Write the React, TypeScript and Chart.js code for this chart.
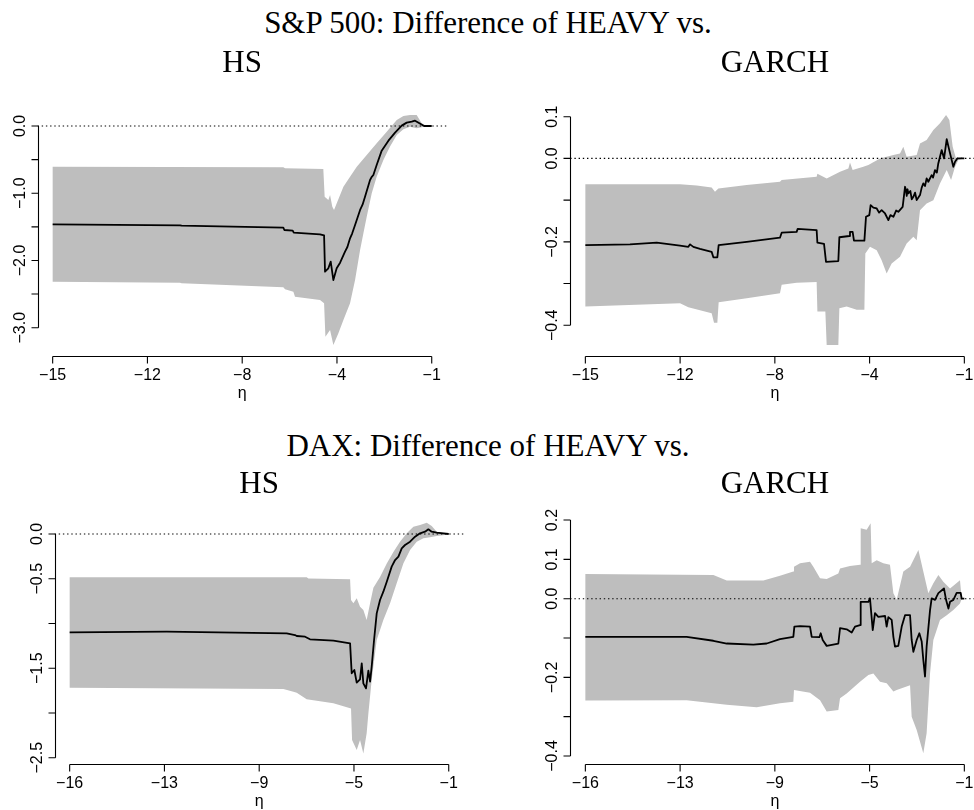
import React, { useEffect, useRef } from "react";
import { Chart, registerables } from "chart.js";

Chart.register(...registerables);

// ---------- tick labels ----------
const xTickPos = [0, 1, 2, 3, 4];
const spXLabels = ["\u221215", "\u221212", "\u22128", "\u22124", "\u22121"];
const daxXLabels = ["\u221216", "\u221213", "\u22129", "\u22125", "\u22121"];

const spHsYTicks = [0, -0.5, -1, -1.5, -2, -2.5, -3];
const spHsYLabels = ["0.0", "", "\u22121.0", "", "\u22122.0", "", "\u22123.0"];
const spGarchYTicks = [0.1, 0, -0.1, -0.2, -0.3, -0.4];
const spGarchYLabels = ["0.1", "0.0", "", "\u22120.2", "", "\u22120.4"];
const daxHsYTicks = [0, -0.5, -1, -1.5, -2, -2.5];
const daxHsYLabels = ["0.0", "\u22120.5", "", "\u22121.5", "", "\u22122.5"];
const daxGarchYTicks = [0.2, 0.1, 0, -0.1, -0.2, -0.3, -0.4];
const daxGarchYLabels = ["0.2", "0.1", "0.0", "", "\u22120.2", "", "\u22120.4"];

// ---------- S&P 500, HEAVY vs HS ----------
const spHsMean: [number, number][] = [
  [0, -1.463], [1.344, -1.477], [1.361, -1.482], [2.434, -1.512], [2.445, -1.547],
  [2.533, -1.557], [2.544, -1.587], [2.821, -1.611], [2.864, -1.626], [2.874, -2.167],
  [2.909, -2.117], [2.934, -2.018], [2.962, -2.291], [2.997, -2.117], [3.033, -2.033],
  [3.085, -1.869], [3.11, -1.8], [3.138, -1.671], [3.16, -1.6], [3.191, -1.472],
  [3.244, -1.249], [3.27, -1.17], [3.296, -1.051], [3.349, -0.803], [3.365, -0.76],
  [3.384, -0.729], [3.419, -0.58], [3.472, -0.367], [3.543, -0.218], [3.613, -0.099],
  [3.683, 0.005], [3.736, 0.05], [3.789, 0.064], [3.824, 0.079], [3.87, 0.04],
  [3.919, 0], [4, 0],
];
const spHsUpper: [number, number][] = [
  [0, -0.605], [2.434, -0.615], [2.452, -0.63], [2.856, -0.64], [2.87, -1.051],
  [2.909, -1.101], [2.927, -1.026], [2.951, -1.2], [2.969, -1.249], [3.068, -0.902],
  [3.138, -0.754], [3.209, -0.605], [3.314, -0.431], [3.419, -0.258], [3.525, -0.084],
  [3.631, 0.089], [3.701, 0.149], [3.771, 0.164], [3.841, 0.164], [3.894, 0.04],
  [3.947, 0], [4, 0],
];
const spHsLower: [number, number][] = [
  [0, -2.315], [1.344, -2.33], [1.361, -2.34], [2.434, -2.4], [2.452, -2.429],
  [2.54, -2.464], [2.557, -2.538], [2.821, -2.588], [2.864, -2.638], [2.878, -3.133],
  [2.927, -3.034], [2.962, -3.257], [3.015, -3.084], [3.068, -2.885], [3.138, -2.638],
  [3.191, -2.291], [3.244, -1.844], [3.279, -1.596], [3.314, -1.349], [3.367, -1.001],
  [3.419, -0.754], [3.49, -0.506], [3.56, -0.307], [3.631, -0.134], [3.701, -0.05],
  [3.771, -0.01], [3.841, -0.035], [3.894, -0.02], [3.947, 0], [4, 0],
];

// ---------- S&P 500, HEAVY vs GARCH ----------
const spGarchMean: [number, number][] = [
  [0, -0.208], [0.471, -0.206], [0.753, -0.202], [0.999, -0.209], [1.087, -0.212],
  [1.105, -0.206], [1.14, -0.212], [1.21, -0.217], [1.333, -0.224], [1.351, -0.237],
  [1.393, -0.237], [1.407, -0.208], [1.703, -0.2], [2.054, -0.19], [2.072, -0.178],
  [2.23, -0.176], [2.241, -0.169], [2.441, -0.172], [2.449, -0.202], [2.519, -0.205],
  [2.54, -0.248], [2.67, -0.246], [2.681, -0.189], [2.786, -0.186], [2.793, -0.176],
  [2.821, -0.176], [2.835, -0.197], [2.945, -0.197], [2.962, -0.14], [2.997, -0.136],
  [3.011, -0.112], [3.04, -0.118], [3.075, -0.12], [3.1, -0.13], [3.127, -0.124],
  [3.163, -0.132], [3.198, -0.148], [3.22, -0.136], [3.251, -0.14], [3.28, -0.125],
  [3.303, -0.128], [3.349, -0.116], [3.374, -0.068], [3.385, -0.078], [3.392, -0.09],
  [3.4, -0.074], [3.409, -0.084], [3.43, -0.078], [3.445, -0.098], [3.462, -0.092],
  [3.48, -0.082], [3.497, -0.1], [3.532, -0.088], [3.55, -0.07], [3.567, -0.06],
  [3.585, -0.066], [3.602, -0.048], [3.62, -0.056], [3.655, -0.04], [3.67, -0.046],
  [3.69, -0.028], [3.71, -0.034], [3.725, -0.012], [3.743, 0.004], [3.761, 0.02],
  [3.786, 0.0], [3.814, 0.046], [3.849, 0.012], [3.884, -0.02], [3.902, -0.008],
  [3.926, 0], [4, 0],
];
const spGarchUpper: [number, number][] = [
  [0, -0.062], [0.999, -0.062], [1.175, -0.065], [1.333, -0.07], [1.368, -0.08],
  [1.404, -0.072], [1.703, -0.064], [2.054, -0.056], [2.072, -0.052], [2.441, -0.044],
  [2.449, -0.037], [2.547, -0.048], [2.688, -0.032], [2.776, -0.024], [2.793, -0.01],
  [2.821, -0.028], [2.934, -0.02], [2.987, -0.016], [3.11, 0.0], [3.251, 0.008],
  [3.321, 0.012], [3.356, 0.028], [3.391, 0.004], [3.497, 0.008], [3.532, 0.036],
  [3.602, 0.044], [3.673, 0.068], [3.743, 0.084], [3.807, 0.104], [3.842, 0.092],
  [3.877, 0.028], [3.912, 0], [4, 0],
];
const spGarchLower: [number, number][] = [
  [0, -0.355], [0.999, -0.347], [1.087, -0.357], [1.333, -0.371], [1.358, -0.394],
  [1.393, -0.394], [1.407, -0.345], [1.703, -0.335], [2.054, -0.323], [2.072, -0.303],
  [2.23, -0.298], [2.441, -0.296], [2.449, -0.367], [2.533, -0.367], [2.547, -0.447],
  [2.67, -0.447], [2.681, -0.359], [2.758, -0.355], [2.864, -0.363], [2.945, -0.363],
  [2.955, -0.228], [3.004, -0.212], [3.075, -0.22], [3.127, -0.244], [3.18, -0.276],
  [3.233, -0.252], [3.321, -0.236], [3.391, -0.204], [3.462, -0.188], [3.497, -0.196],
  [3.532, -0.124], [3.602, -0.108], [3.673, -0.1], [3.743, -0.06], [3.814, -0.028],
  [3.86, -0.052], [3.902, -0.02], [3.937, -0.004], [4, 0],
];

// ---------- DAX, HEAVY vs HS ----------
const daxHsMean: [number, number][] = [
  [0, -1.099], [1.024, -1.092], [2.29, -1.11], [2.378, -1.129], [2.396, -1.14],
  [2.484, -1.148], [2.536, -1.177], [2.783, -1.192], [2.959, -1.222], [2.976, -1.557],
  [3.004, -1.52], [3.029, -1.662], [3.064, -1.625], [3.082, -1.446], [3.099, -1.669],
  [3.127, -1.725], [3.152, -1.528], [3.17, -1.651], [3.187, -1.483], [3.212, -1.185],
  [3.24, -0.887], [3.275, -0.738], [3.31, -0.645], [3.346, -0.533], [3.398, -0.365],
  [3.434, -0.291], [3.469, -0.253], [3.504, -0.16], [3.539, -0.123], [3.592, -0.086],
  [3.645, -0.03], [3.697, 0.007], [3.75, 0.026], [3.785, 0.052], [3.82, 0.026],
  [3.873, 0.015], [3.943, 0.007], [4, 0],
];
const daxHsUpper: [number, number][] = [
  [0, -0.484], [2.501, -0.484], [2.519, -0.496], [2.959, -0.507], [2.969, -0.738],
  [2.994, -0.775], [3.029, -0.719], [3.064, -0.812], [3.099, -0.85], [3.134, -0.961],
  [3.17, -0.775], [3.205, -0.6], [3.275, -0.48], [3.346, -0.33], [3.416, -0.2],
  [3.486, -0.086], [3.557, 0.007], [3.627, 0.082], [3.697, 0.101], [3.768, 0.127],
  [3.82, 0.089], [3.873, 0.026], [3.943, 0.015], [4, 0.007],
];
const daxHsLower: [number, number][] = [
  [0, -1.718], [2.255, -1.733], [2.361, -1.762], [2.396, -1.774], [2.501, -1.848],
  [2.783, -1.893], [2.969, -1.949], [2.98, -2.303], [3.029, -2.414], [3.064, -2.303],
  [3.099, -2.452], [3.134, -2.228], [3.152, -2.005], [3.187, -1.632], [3.24, -1.185],
  [3.31, -0.961], [3.381, -0.775], [3.451, -0.551], [3.522, -0.328], [3.592, -0.179],
  [3.662, -0.086], [3.733, -0.048], [3.803, -0.037], [3.873, -0.022], [4, -0.007],
];

// ---------- DAX, HEAVY vs GARCH ----------
const daxGarchMean: [number, number][] = [
  [0, -0.097], [1.069, -0.097], [1.351, -0.107], [1.492, -0.114], [1.773, -0.117],
  [1.914, -0.114], [2.054, -0.103], [2.195, -0.097], [2.206, -0.071], [2.266, -0.07],
  [2.371, -0.071], [2.389, -0.097], [2.47, -0.098], [2.484, -0.088], [2.505, -0.105],
  [2.547, -0.12], [2.67, -0.114], [2.688, -0.075], [2.758, -0.078], [2.811, -0.086],
  [2.846, -0.071], [2.899, -0.067], [2.906, -0.008], [2.987, -0.008], [3.004, 0.001],
  [3.033, -0.08], [3.057, -0.037], [3.092, -0.046], [3.163, -0.044], [3.18, -0.071],
  [3.198, -0.047], [3.233, -0.054], [3.251, -0.097], [3.268, -0.122], [3.303, -0.12],
  [3.339, -0.071], [3.374, -0.042], [3.427, -0.042], [3.444, -0.105], [3.462, -0.135],
  [3.497, -0.105], [3.525, -0.088], [3.55, -0.109], [3.567, -0.156], [3.585, -0.198],
  [3.602, -0.122], [3.638, -0.029], [3.655, 0.001], [3.69, -0.003], [3.726, 0.014],
  [3.785, 0.026], [3.807, -0.003], [3.832, -0.025], [3.849, -0.008], [3.884, -0.003],
  [3.919, 0.015], [3.961, 0.015], [3.972, 0], [4, 0],
];
const daxGarchUpper: [number, number][] = [
  [0, 0.063], [1.351, 0.06], [1.492, 0.046], [1.879, 0.046], [2.054, 0.058],
  [2.195, 0.069], [2.202, 0.081], [2.266, 0.09], [2.371, 0.094], [2.406, 0.081],
  [2.477, 0.052], [2.547, 0.05], [2.67, 0.064], [2.688, 0.077], [2.793, 0.083],
  [2.899, 0.086], [2.906, 0.179], [2.969, 0.175], [3.011, 0.192], [3.022, 0.09],
  [3.075, 0.098], [3.145, 0.09], [3.215, 0.086], [3.251, 0.014], [3.286, -0.003],
  [3.356, 0.069], [3.427, 0.081], [3.515, 0.124], [3.567, 0.069], [3.62, 0.014],
  [3.673, 0.039], [3.726, 0.06], [3.778, 0.043], [3.849, 0.026], [3.954, 0.047],
  [3.972, 0],
];
const daxGarchLower: [number, number][] = [
  [0, -0.259], [1.069, -0.258], [1.492, -0.27], [1.808, -0.276], [2.054, -0.266],
  [2.195, -0.262], [2.202, -0.232], [2.371, -0.239], [2.477, -0.258], [2.547, -0.287],
  [2.67, -0.283], [2.688, -0.253], [2.758, -0.241], [2.899, -0.211], [2.987, -0.194],
  [3.04, -0.19], [3.11, -0.211], [3.18, -0.215], [3.251, -0.236], [3.286, -0.232],
  [3.427, -0.22], [3.444, -0.3], [3.497, -0.334], [3.567, -0.393], [3.602, -0.342],
  [3.638, -0.19], [3.673, -0.105], [3.743, -0.054], [3.814, -0.042], [3.884, -0.029],
  [3.954, -0.012], [3.972, 0],
];

// ---------- layout ----------
type Box = { x: number; y: number; w: number; h: number };
type Area = { left: number; top: number; right: number; bottom: number };

interface PanelCfg {
  box: Box;
  area: Area;
  yMin: number;
  yMax: number;
  mean: [number, number][];
  upper: [number, number][];
  lower: [number, number][];
  yTicks: number[];
  yLabels: string[];
  xLabels: string[];
}

const X_MIN = -0.16;
const X_MAX = 4.16;

const panels: PanelCfg[] = [
  {
    box: { x: 0, y: 75, w: 487, h: 345 },
    area: { left: 37.5, top: 105, right: 446.9, bottom: 356 },
    yMin: -3.421, yMax: 0.312,
    mean: spHsMean, upper: spHsUpper, lower: spHsLower,
    yTicks: spHsYTicks, yLabels: spHsYLabels, xLabels: spXLabels,
  },
  {
    box: { x: 487, y: 75, w: 500, h: 345 },
    area: { left: 570.2, top: 105, right: 979.5, bottom: 356 },
    yMin: -0.4736, yMax: 0.128,
    mean: spGarchMean, upper: spGarchUpper, lower: spGarchLower,
    yTicks: spGarchYTicks, yLabels: spGarchYLabels, xLabels: spXLabels,
  },
  {
    box: { x: 0, y: 495, w: 487, h: 315 },
    area: { left: 54.5, top: 514, right: 463.9, bottom: 764.3 },
    yMin: -2.574, yMax: 0.2235,
    mean: daxHsMean, upper: daxHsUpper, lower: daxHsLower,
    yTicks: daxHsYTicks, yLabels: daxHsYLabels, xLabels: daxXLabels,
  },
  {
    box: { x: 487, y: 495, w: 500, h: 315 },
    area: { left: 570.2, top: 514, right: 979.5, bottom: 764.3 },
    yMin: -0.4211, yMax: 0.2153,
    mean: daxGarchMean, upper: daxGarchUpper, lower: daxGarchLower,
    yTicks: daxGarchYTicks, yLabels: daxGarchYLabels, xLabels: daxXLabels,
  },
];

const TITLE_SIZE = 31;
const titles = [
  { text: "S&P 500: Difference of HEAVY vs.", cx: 488, base: 33 },
  { text: "HS", cx: 242.2, base: 72 },
  { text: "GARCH", cx: 774.9, base: 72 },
  { text: "DAX: Difference of HEAVY vs.", cx: 488, base: 456 },
  { text: "HS", cx: 259.2, base: 493 },
  { text: "GARCH", cx: 774.9, base: 493 },
];

const AXIS_FONT = '16px "Liberation Sans", Arial, Helvetica, sans-serif';
const TICK_LEN = 7;

const rAxesPlugin = {
  id: "rAxes",
  afterDraw(chart: any, _args: any, opts: any) {
    const { ctx, chartArea, scales } = chart;
    const xs = scales.x;
    const ys = scales.y;
    ctx.save();
    ctx.strokeStyle = "#000";
    ctx.fillStyle = "#000";
    ctx.lineWidth = 1.1;
    const yb = Math.round(chartArea.bottom) + 0.5;
    const xl = Math.round(chartArea.left) + 0.5;
    const xt: number[] = opts.xTicks;
    const yt: number[] = opts.yTicks;
    ctx.beginPath();
    ctx.moveTo(xs.getPixelForValue(xt[0]), yb);
    ctx.lineTo(xs.getPixelForValue(xt[xt.length - 1]), yb);
    xt.forEach((t) => {
      const px = xs.getPixelForValue(t);
      ctx.moveTo(px, yb);
      ctx.lineTo(px, yb + TICK_LEN);
    });
    ctx.moveTo(xl, ys.getPixelForValue(yt[0]));
    ctx.lineTo(xl, ys.getPixelForValue(yt[yt.length - 1]));
    yt.forEach((t) => {
      const py = ys.getPixelForValue(t);
      ctx.moveTo(xl, py);
      ctx.lineTo(xl - TICK_LEN, py);
    });
    ctx.stroke();

    ctx.font = AXIS_FONT;
    ctx.textAlign = "center";
    ctx.textBaseline = "alphabetic";
    xt.forEach((t, i) => {
      ctx.fillText(opts.xLabels[i], xs.getPixelForValue(t), yb + 23);
    });
    ctx.fillText(
      opts.xTitle,
      (xs.getPixelForValue(xt[0]) + xs.getPixelForValue(xt[xt.length - 1])) / 2,
      yb + 41
    );
    yt.forEach((t, i) => {
      const lab = opts.yLabels[i];
      if (!lab) return;
      ctx.save();
      ctx.translate(xl - 14, ys.getPixelForValue(t));
      ctx.rotate(-Math.PI / 2);
      ctx.fillText(lab, 0, 0);
      ctx.restore();
    });
    ctx.restore();
  },
};

const toXY = (arr: [number, number][]) => arr.map(([x, y]) => ({ x, y }));

function Panel({ cfg }: { cfg: PanelCfg }) {
  const ref = useRef<HTMLCanvasElement>(null);
  useEffect(() => {
    const { box, area } = cfg;
    const band = [...toXY(cfg.upper), ...toXY(cfg.lower).reverse()];
    const chart = new Chart(ref.current as HTMLCanvasElement, {
      type: "line",
      data: {
        datasets: [
          {
            data: toXY(cfg.mean),
            borderColor: "#000",
            borderWidth: 1.8,
            pointRadius: 0,
            fill: false,
            tension: 0,
            borderJoinStyle: "round",
            order: 0,
          } as any,
          {
            data: [{ x: X_MIN, y: 0 }, { x: X_MAX, y: 0 }],
            borderColor: "#000",
            borderWidth: 1.1,
            borderDash: [1.4, 2.8],
            pointRadius: 0,
            fill: false,
            order: 1,
          } as any,
          {
            data: band,
            borderWidth: 0,
            borderColor: "rgba(0,0,0,0)",
            backgroundColor: "#bebebe",
            pointRadius: 0,
            fill: "shape",
            tension: 0,
            order: 2,
          } as any,
        ],
      },
      options: {
        animation: false,
        responsive: false,
        maintainAspectRatio: false,
        events: [],
        layout: {
          padding: {
            left: area.left - box.x,
            top: area.top - box.y,
            right: box.x + box.w - area.right,
            bottom: box.y + box.h - area.bottom,
          },
        },
        scales: {
          x: { type: "linear", display: false, min: X_MIN, max: X_MAX },
          y: { type: "linear", display: false, min: cfg.yMin, max: cfg.yMax },
        },
        plugins: {
          legend: { display: false },
          tooltip: { enabled: false },
          rAxes: {
            xTicks: xTickPos,
            xLabels: cfg.xLabels,
            yTicks: cfg.yTicks,
            yLabels: cfg.yLabels,
            xTitle: "\u03b7",
          },
        } as any,
      },
      plugins: [rAxesPlugin],
    });
    return () => chart.destroy();
  }, [cfg]);
  return (
    <canvas
      ref={ref}
      width={cfg.box.w}
      height={cfg.box.h}
      style={{
        position: "absolute",
        left: cfg.box.x,
        top: cfg.box.y,
        width: cfg.box.w,
        height: cfg.box.h,
      }}
    />
  );
}

export default function App() {
  return (
    <div
      style={{
        position: "absolute",
        left: 0,
        top: 0,
        width: 974,
        height: 810,
        overflow: "hidden",
        background: "#fff",
      }}
    >
      {panels.map((p, i) => (
        <Panel key={i} cfg={p} />
      ))}
      {titles.map((t, i) => (
        <div
          key={"t" + i}
          style={{
            position: "absolute",
            left: t.cx,
            top: t.base - 0.8375 * TITLE_SIZE,
            transform: "translateX(-50%)",
            whiteSpace: "nowrap",
            fontFamily: '"Liberation Serif", "Times New Roman", serif',
            fontSize: TITLE_SIZE,
            lineHeight: TITLE_SIZE + "px",
            color: "#000",
          }}
        >
          {t.text}
        </div>
      ))}
    </div>
  );
}
